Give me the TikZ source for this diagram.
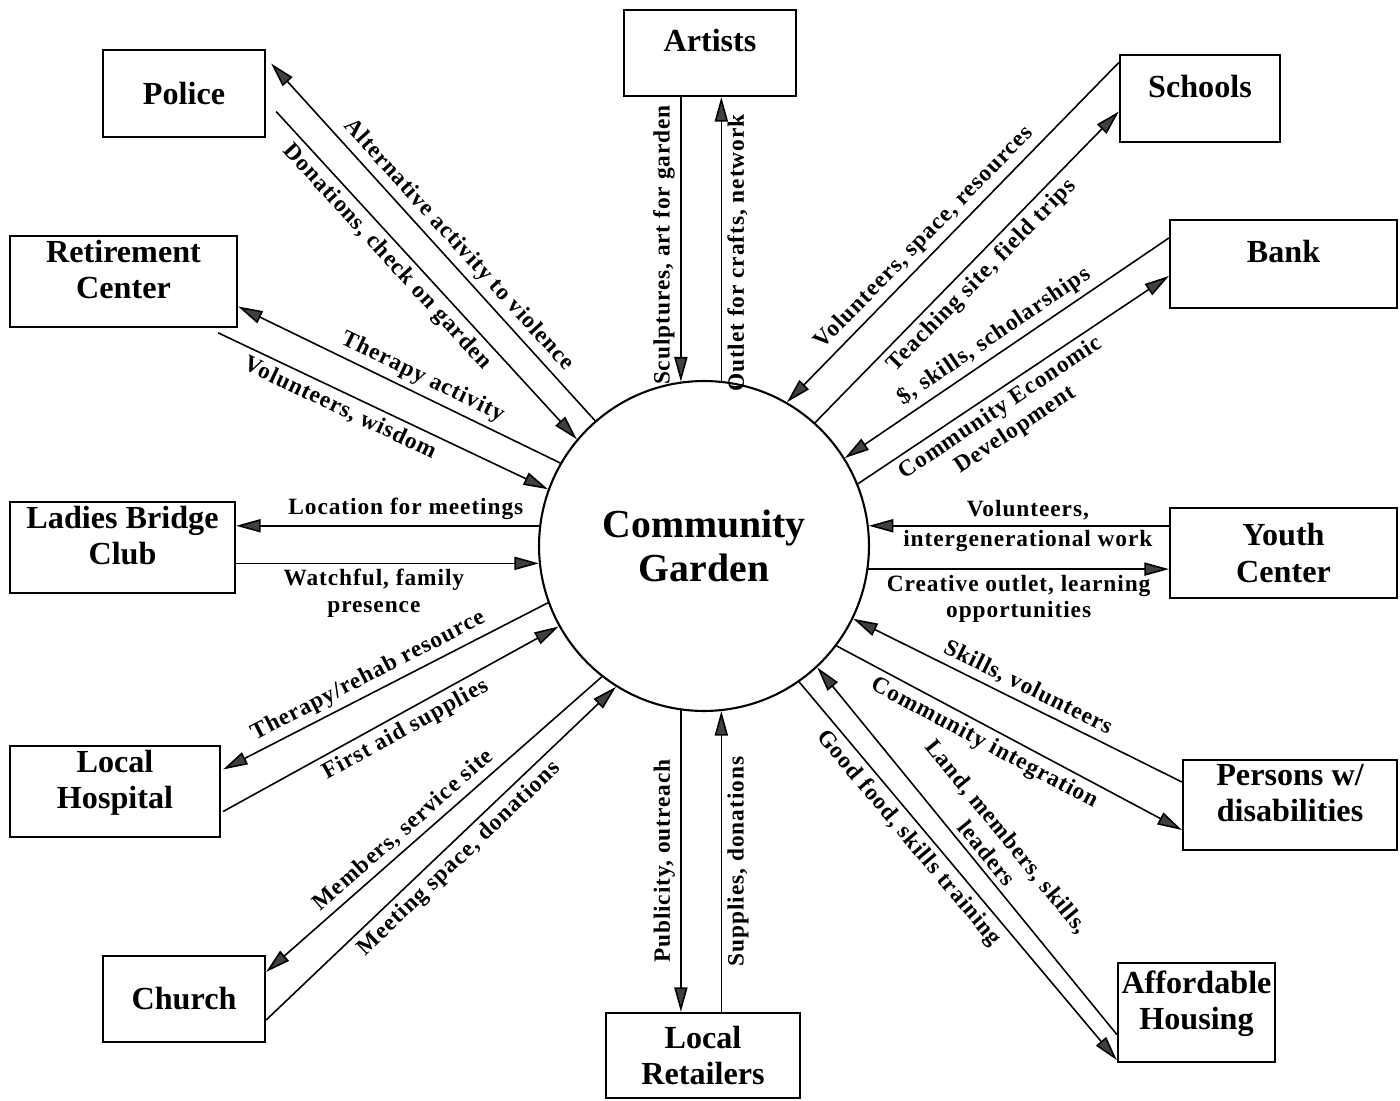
\documentclass[tikz,border=0pt]{standalone}
\usepackage{fontspec}
\setmainfont{Liberation Serif}
\newfontfamily\lblfont{Liberation Serif}[LetterSpace=4]
\usetikzlibrary{arrows.meta,calc}

\tikzset{
  party/.style={draw, line width=1.3pt, inner sep=2pt, align=center,
    font=\fontsize{18.3}{20.5}\selectfont\bfseries},
  raised/.style={text depth=0.5cm},
  flow/.style={line width=0.9pt, -{Triangle[length=14pt,width=7.5pt,fill=black!75]}},
  lbltext/.style={inner sep=3pt, align=center,
    font=\lblfont\fontsize{13.3}{15}\selectfont\bfseries},
  lbl/.style={lbltext, sloped},
  vlbl/.style={lbltext, rotate=90}
}

\begin{document}
\begin{tikzpicture}[x=0.02cm, y=-0.02cm]
  \useasboundingbox[fill=white] (0,0) rectangle (1400,1101);

  % Garden in the middle
  \node[circle, draw, line width=1.2pt, minimum size=6.6cm, inner sep=0pt, align=center,
    font=\fontsize{22.6}{25}\selectfont\bfseries] (garden) at (704,546) {Community\\Garden};

  % Partners
  \node[party, minimum width=3.44cm, minimum height=1.72cm, raised] (artists) at (710,53) {Artists};
  \node[party, minimum width=3.24cm, minimum height=1.74cm] (police) at (184,93.5) {Police};
  \node[party, minimum width=3.2cm, minimum height=1.74cm, raised] (schools) at (1200,98.5) {Schools};
  \node[party, minimum width=4.54cm, minimum height=1.78cm, raised] (retire) at (123.5,281.5) {Retirement\\Center};
  \node[party, minimum width=4.54cm, minimum height=1.76cm, raised] (bank) at (1283.5,264) {Bank};
  \node[party, minimum width=4.5cm, minimum height=1.78cm, raised] (ladies) at (122.5,547.5) {Ladies Bridge\\Club};
  \node[party, minimum width=4.54cm, minimum height=1.8cm] (youth) at (1283.5,553) {Youth\\Center};
  \node[party, minimum width=4.2cm, minimum height=1.78cm, raised] (hospital) at (115,791.5) {Local\\Hospital};
  \node[party, minimum width=4.28cm, minimum height=1.8cm, raised] (persons) at (1290,805) {Persons w/\\disabilities};
  \node[party, minimum width=3.24cm, minimum height=1.72cm] (church) at (184,999) {Church};
  \node[party, minimum width=3.88cm, minimum height=1.7cm] (retailers) at (703,1055.5) {Local\\Retailers};
  \node[party, minimum width=3.14cm, minimum height=1.98cm, raised] (housing) at (1196.5,1012.5) {Affordable\\Housing};

  % Artists
  \draw[flow] (artists.south -| garden.98) -- node[vlbl, above, pos=0.52] {Sculptures, art for garden} (garden.98);
  \draw[flow] (garden.84) -- node[vlbl, below, pos=0.45] {Outlet for crafts, network} (garden.84 |- artists.south);

  % Police
  \draw[flow] (garden.131) -- node[lbl, above, pos=0.46] {Alternative activity to violence} ($(police.east)+(5,-30)$);
  \draw[flow] ($(police.east)+(10,18)$) -- node[lbl, below, pos=0.41] {Donations, check on garden} (garden.140);

  % Retirement center
  \draw[flow] (garden.150) -- node[lbl, above, pos=0.45] {Therapy activity} ($(retire.east)+(0,25)$);
  \draw[flow] ($(retire.south east)+(-20,5)$) -- node[lbl, below, pos=0.39] {Volunteers, wisdom} (garden.160);

  % Ladies bridge club
  \draw[flow] (garden.173) -- node[lbltext, above, pos=0.44] {Location for meetings} (garden.173 -| ladies.east);
  \draw[flow] (garden.186 -| ladies.east) -- node[lbltext, below, pos=0.455] {Watchful, family\\presence} (garden.186);

  % Hospital
  \draw[flow] (garden.200) -- node[lbl, above, pos=0.53] {Therapy/rehab resource} ($(hospital.east)+(2,-22)$);
  \draw[flow] ($(hospital.east)+(2,20)$) -- node[lbl, below, pos=0.52] {First aid supplies} (garden.209);

  % Church
  \draw[flow] (garden.232) -- node[lbl, above, pos=0.56] {Members, service site} ($(church.east)+(0,-27)$);
  \draw[flow] ($(church.east)+(0,21)$) -- node[lbl, below, pos=0.52] {Meeting space, donations} (garden.238);

  % Retailers
  \draw[flow] (garden.262) -- node[vlbl, above, pos=0.5] {Publicity, outreach} (garden.262 |- retailers.north);
  \draw[flow] (garden.276 |- retailers.north) -- node[vlbl, below, pos=0.5] {Supplies, donations} (garden.276);

  % Housing
  \draw[flow] (garden.305) -- node[lbl, below, pos=0.385] {Good food, skills training} ($(housing.south west)+(0,-3)$);
  \draw[flow] ($(housing.west)+(0,22)$) -- node[lbl, above, pos=0.47] {Land, members, skills,\\leaders} (garden.313);

  % Persons w/ disabilities
  \draw[flow] (garden.323) -- node[lbl, below, pos=0.45] {Community integration} ($(persons.west)+(0,25)$);
  \draw[flow] ($(persons.west)+(0,-23)$) -- node[lbl, above, pos=0.49] {Skills, volunteers} (garden.334);

  % Youth center
  \draw[flow] (garden.7 -| youth.west) -- node[lbltext, pos=0.47] {Volunteers,\\[2pt]intergenerational work} (garden.7);
  \draw[flow] (garden.352) -- node[lbltext, below, pos=0.5] {Creative outlet, learning\\opportunities} (garden.352 -| youth.west);

  % Bank
  \draw[flow] (garden.22) -- node[lbl, below, pos=0.43] {Community Economic\\Development} ($(bank.west)+(0,12)$);
  \draw[flow] ($(bank.west)+(0,-26)$) -- node[lbl, above, pos=0.51] {\$, skills, scholarships} (garden.32);

  % Schools
  \draw[flow] ($(schools.west)+(0,-36)$) -- node[lbl, above, pos=0.55] {Volunteers, space, resources} (garden.60);
  \draw[flow] (garden.48) -- node[lbl, below, pos=0.51] {Teaching site, field trips} ($(schools.west)+(0,13)$);
\end{tikzpicture}
\end{document}
